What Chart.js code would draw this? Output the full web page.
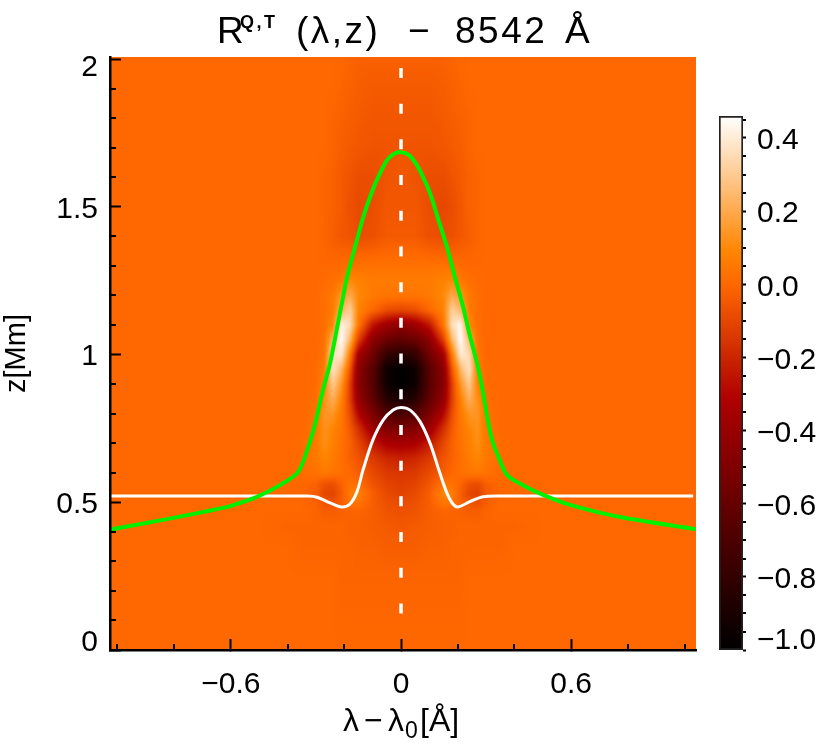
<!DOCTYPE html>
<html>
<head>
<meta charset="utf-8">
<style>
html, body { margin: 0; background: #fff; }
#wrap { position: relative; width: 828px; height: 747px; overflow: hidden; }
canvas { position: absolute; top: 0; }
#main { left: 0; }
#bar { left: 690px; }
</style>
<script src="https://cdn.jsdelivr.net/npm/chart.js@4"></script>
</head>
<body>
<div id="wrap">
<canvas id="main" width="828" height="747"></canvas>
<canvas id="bar" width="138" height="747"></canvas>
</div>
<script>
// tick values
const xMajor = [-0.6, 0, 0.6];
const xMinor = [-1, -0.8, -0.4, -0.2, 0.2, 0.4, 0.8, 1];
const zMajor = [0, 0.5, 1, 1.5, 2];
const zMinor = [0.1, 0.2, 0.3, 0.4, 0.6, 0.7, 0.8, 0.9, 1.1, 1.2, 1.3, 1.4, 1.6, 1.7, 1.8, 1.9];
const cbMajor = [-1, -0.8, -0.6, -0.4, -0.2, 0, 0.2, 0.4];
const cbMinor = [-0.95, -0.9, -0.85, -0.75, -0.7, -0.65, -0.55, -0.5, -0.45, -0.35, -0.3, -0.25, -0.15, -0.1, -0.05, 0.05, 0.1, 0.15, 0.25, 0.3, 0.35, 0.45];

// green curve
const greenLambda = [-1.04, -0.825, -0.663, -0.603, -0.508, -0.427, -0.363, -0.328, -0.303, -0.275, -0.25, -0.222, -0.19, -0.162, -0.134, -0.109, -0.085, -0.049, -0.025, 0, 0.028, 0.056, 0.081, 0.102, 0.13, 0.162, 0.19, 0.219, 0.243, 0.268, 0.289, 0.307, 0.321, 0.338, 0.374, 0.43, 0.501, 0.596, 0.772, 1.04];
const greenZ = [0.405, 0.443, 0.474, 0.487, 0.518, 0.558, 0.602, 0.684, 0.765, 0.88, 0.971, 1.107, 1.262, 1.364, 1.462, 1.533, 1.591, 1.658, 1.679, 1.685, 1.675, 1.641, 1.594, 1.547, 1.462, 1.364, 1.262, 1.161, 1.063, 0.971, 0.873, 0.772, 0.711, 0.667, 0.592, 0.558, 0.525, 0.491, 0.45, 0.409];

// white curve
const whiteLambda = [-1.04, -0.5, -0.33, -0.296, -0.25, -0.209, -0.18, -0.155, -0.134, -0.099, -0.063, -0.028, 0, 0.032, 0.067, 0.102, 0.137, 0.162, 0.183, 0.201, 0.243, 0.289, 0.36, 1.03];
const whiteZ = [0.521, 0.521, 0.521, 0.517, 0.498, 0.484, 0.494, 0.536, 0.609, 0.711, 0.778, 0.812, 0.821, 0.812, 0.773, 0.701, 0.599, 0.531, 0.494, 0.484, 0.502, 0.519, 0.521, 0.521];

// dashed line at line centre
const dashLambda = [0, 0];
const dashZ = [1.97, 0.12];

// response function
const heatLambda = [-1.04, -0.7, -0.5, -0.4, -0.35, -0.3, -0.27, -0.24, -0.21, -0.18, -0.15, -0.1, -0.05, 0, 0.05, 0.1, 0.15, 0.18, 0.21, 0.24, 0.27, 0.3, 0.35, 0.4, 0.5, 0.7, 1.04];
const heatZ = [0, 0.25, 0.35, 0.42, 0.47, 0.5, 0.53, 0.56, 0.6, 0.65, 0.7, 0.75, 0.8, 0.85, 0.9, 0.95, 1, 1.05, 1.1, 1.15, 1.2, 1.25, 1.3, 1.4, 1.5, 1.6, 1.7, 1.8, 1.9, 2.01];
const heatValues = [
[0,0,0,0,0,0,0,0,0,0,0,0,0,0,0,0,0,0,0,0,0,0,0,0,0,0,0],
[0,0,0,0,0,0,0,0,-.01,-.01,-.01,-.01,-.01,-.01,-.01,-.01,-.01,-.01,-.01,0,0,0,0,0,0,0,0],
[0,0,0,0,-.01,-.01,-.01,-.01,-.01,-.01,-.02,-.02,-.03,-.03,-.03,-.02,-.02,-.01,-.01,-.01,-.01,-.01,-.01,0,0,0,0],
[0,0,0,-.01,-.01,-.01,-.01,-.01,-.01,-.02,-.02,-.03,-.04,-.05,-.04,-.03,-.02,-.02,-.01,-.01,-.01,-.01,-.01,-.01,0,0,0],
[0,0,0,0,0,-.01,-.03,-.03,-.02,-.01,-.01,-.03,-.06,-.07,-.06,-.03,-.01,-.01,-.02,-.03,-.03,-.01,0,0,0,0,0],
[0,0,0,0,0,-.02,-.06,-.07,-.03,.03,.04,-.03,-.07,-.09,-.07,-.03,.05,.04,-.02,-.06,-.08,-.03,0,0,0,0,0],
[0,0,0,0,-.01,-.03,-.1,-.11,-.04,.06,.08,-.03,-.09,-.11,-.09,-.03,.09,.07,-.03,-.1,-.12,-.04,-.01,0,0,0,0],
[0,0,0,0,0,-.02,-.07,-.08,-.02,.03,.02,-.06,-.11,-.13,-.11,-.05,.03,.03,-.01,-.07,-.09,-.03,0,0,0,0,0],
[0,0,0,0,.01,.03,.05,.04,.02,0,-.03,-.09,-.14,-.15,-.14,-.09,-.03,0,.02,.04,.05,.03,.01,0,0,0,0],
[0,0,0,0,.01,.05,.09,.06,.02,-.02,-.06,-.14,-.2,-.22,-.2,-.14,-.06,-.02,.02,.06,.09,.05,.01,0,0,0,0],
[0,0,0,0,.01,.05,.12,.07,.03,-.02,-.1,-.24,-.33,-.35,-.33,-.24,-.1,-.02,.03,.07,.12,.05,.01,0,0,0,0],
[0,0,0,0,0,.04,.13,.09,.04,-.04,-.17,-.38,-.5,-.52,-.5,-.38,-.17,-.04,.04,.09,.13,.04,0,0,0,0,0],
[0,0,0,0,0,.03,.14,.14,.05,-.08,-.3,-.52,-.68,-.72,-.68,-.52,-.3,-.08,.05,.14,.14,.03,0,0,0,0,0],
[0,0,0,0,0,.02,.12,.22,.08,-.12,-.42,-.62,-.86,-.9,-.86,-.62,-.42,-.12,.08,.22,.12,.02,0,0,0,0,0],
[0,0,0,0,0,.01,.08,.3,.14,-.12,-.46,-.66,-.95,-1,-.95,-.66,-.46,-.12,.14,.3,.08,.01,0,0,0,0,0],
[0,0,0,0,0,.01,.06,.38,.24,-.05,-.45,-.65,-.95,-1,-.95,-.65,-.45,-.05,.24,.38,.06,.01,0,0,0,0,0],
[0,0,0,0,0,0,.04,.36,.4,.06,-.36,-.56,-.8,-.85,-.8,-.56,-.36,.06,.4,.36,.04,0,0,0,0,0,0],
[0,0,0,0,0,0,.03,.24,.46,.24,-.12,-.45,-.58,-.62,-.58,-.45,-.12,.24,.46,.24,.03,0,0,0,0,0,0],
[0,0,0,0,0,0,.02,.09,.42,.36,.05,-.25,-.38,-.45,-.38,-.25,.05,.36,.44,.09,.02,0,0,0,0,0,0],
[0,0,0,0,0,0,.02,.06,.22,.32,.08,0,-.08,-.1,-.08,0,.08,.32,.24,.06,.02,0,0,0,0,0,0],
[0,0,0,0,0,0,.02,.05,.14,.2,.1,.05,.04,.04,.04,.05,.1,.2,.14,.05,.02,0,0,0,0,0,0],
[0,0,0,0,0,0,.01,.02,.05,.1,.08,.06,.06,.06,.06,.06,.08,.1,.05,.02,.01,0,0,0,0,0,0],
[0,0,0,0,0,0,0,0,.01,.02,.03,.03,.03,.03,.03,.03,.03,.02,.01,0,0,0,0,0,0,0,0],
[0,0,0,0,0,0,-.01,-.03,-.05,-.06,-.08,-.07,-.04,-.04,-.04,-.07,-.08,-.07,-.05,-.03,-.01,0,0,0,0,0,0],
[0,0,0,0,0,0,-.01,-.02,-.04,-.07,-.09,-.08,-.05,-.05,-.05,-.08,-.1,-.08,-.05,-.02,-.01,0,0,0,0,0,0],
[0,0,0,0,0,0,-.01,-.02,-.04,-.06,-.08,-.08,-.06,-.05,-.06,-.08,-.08,-.06,-.04,-.02,-.01,0,0,0,0,0,0],
[0,0,0,0,0,0,0,-.01,-.03,-.04,-.05,-.06,-.06,-.06,-.06,-.06,-.05,-.04,-.03,-.01,0,0,0,0,0,0,0],
[0,0,0,0,0,0,0,-.01,-.02,-.03,-.04,-.05,-.05,-.05,-.05,-.05,-.04,-.03,-.02,-.01,0,0,0,0,0,0,0],
[0,0,0,0,0,0,0,0,-.01,-.02,-.03,-.04,-.04,-.04,-.04,-.04,-.03,-.02,-.01,0,0,0,0,0,0,0,0],
[0,0,0,0,0,0,0,0,0,-.01,-.02,-.02,-.02,-.02,-.02,-.02,-.02,-.01,0,0,0,0,0,0,0,0,0]
];

const valueMin = -1, valueMax = 0.46;
const fontFam = '"Liberation Sans", Arial, sans-serif';
const spacing = '2px';

// IDL red temperature colour table
function colorOf(v) {
    const t = Math.max(0, Math.min(1, (v - valueMin) / (valueMax - valueMin)));
    return [
        255 * Math.min(1, t / 0.686),
        255 * Math.max(0, (t - 0.47) / 0.53),
        255 * Math.max(0, (t - 0.745) / 0.255)
    ];
}

function locate(arr, v) {
    let i = 0;
    while (i < arr.length - 2 && arr[i + 1] < v) i++;
    const f = Math.max(0, Math.min(1, (v - arr[i]) / (arr[i + 1] - arr[i])));
    return [i, f];
}

const heatmapPlugin = {
    id: 'heatmap',
    beforeDatasetsDraw(chart) {
        const { ctx, chartArea: a, scales } = chart;
        const w = Math.ceil(a.width), h = Math.ceil(a.height);
        const off = document.createElement('canvas');
        off.width = w; off.height = h;
        const octx = off.getContext('2d');
        const img = octx.createImageData(w, h);
        for (let py = 0; py < h; py++) {
            const [j, fy] = locate(heatZ, scales.y.getValueForPixel(a.top + py + 0.5));
            for (let px = 0; px < w; px++) {
                const [i, fx] = locate(heatLambda, scales.x.getValueForPixel(a.left + px + 0.5));
                const v = (1 - fy) * ((1 - fx) * heatValues[j][i] + fx * heatValues[j][i + 1])
                    + fy * ((1 - fx) * heatValues[j + 1][i] + fx * heatValues[j + 1][i + 1]);
                const c = colorOf(v), k = (py * w + px) * 4;
                img.data[k] = c[0]; img.data[k + 1] = c[1]; img.data[k + 2] = c[2]; img.data[k + 3] = 255;
            }
        }
        octx.putImageData(img, 0, 0);
        const base = colorOf(0);
        ctx.save();
        ctx.beginPath();
        ctx.rect(a.left, a.top, a.width, a.height);
        ctx.clip();
        ctx.fillStyle = `rgb(${base[0]},${base[1]},${base[2]})`;
        ctx.fillRect(a.left, a.top, a.width, a.height);
        ctx.filter = 'blur(1.2px)';
        ctx.drawImage(off, a.left, a.top);
        ctx.restore();
    }
};

// minor ticks have their own length, the scale only knows one
function drawMinor(chart, scale, values, from, to) {
    const ctx = chart.ctx;
    ctx.save();
    ctx.strokeStyle = '#000';
    ctx.lineWidth = 2;
    ctx.beginPath();
    values.forEach(v => {
        const p = Math.round(scale.getPixelForValue(v));
        if (scale.isHorizontal()) {
            ctx.moveTo(p, from); ctx.lineTo(p, to);
        } else {
            ctx.moveTo(from, p); ctx.lineTo(to, p);
        }
    });
    ctx.stroke();
    ctx.restore();
}

// labels sit a bit low, the end ones are pushed inside the axis range
function shiftLabels(scale, area, all, first, last) {
    const items = scale.getLabelItems(area);
    items.forEach(it => { it.options.translation[1] += all; });
    items[0].options.translation[1] += first;
    items[items.length - 1].options.translation[1] += last;
}

const mainPlugin = {
    id: 'mainExtras',
    beforeInit(chart) { chart.ctx.letterSpacing = spacing; },
    beforeDraw(chart) {
        shiftLabels(chart.scales.y, chart.chartArea, 2.5, -10, 6);
    },
    afterDraw(chart) {
        const a = chart.chartArea;
        drawMinor(chart, chart.scales.x, xMinor, a.bottom, a.bottom - 6);
        drawMinor(chart, chart.scales.y, zMinor, a.left, a.left + 6);
        const ctx = chart.ctx;
        ctx.save();
        ctx.fillStyle = '#000';
        ctx.textBaseline = 'alphabetic';
        ctx.letterSpacing = '2.5px';
        ctx.font = '37px ' + fontFam;
        ctx.fillText('R', 217, 43);
        ctx.fillText('(λ,z)', 296, 43);
        ctx.fillText('−', 408, 43);
        ctx.fillText('8542', 455, 43);
        ctx.fillText('Å', 565, 43);
        ctx.letterSpacing = '2.5px';
        ctx.font = 'bold 18px ' + fontFam;
        ctx.fillText('Q,T', 240, 28);
        // x axis title, the subscript is too large for the scale title
        ctx.letterSpacing = '0px';
        ctx.font = '32px ' + fontFam;
        ctx.fillText('λ', 343, 731);
        ctx.fillText('−', 364, 731);
        ctx.fillText('λ', 388, 731);
        ctx.fillText('[Å]', 420, 731);
        ctx.font = '23px ' + fontFam;
        ctx.fillText('0', 405, 738);
        ctx.restore();
    }
};

const tickFont = { family: fontFam, size: 30 };

new Chart(document.getElementById('main'), {
    type: 'scatter',
    data: {
        datasets: [
            { data: greenLambda.map((x, i) => ({ x, y: greenZ[i] })), showLine: true, borderColor: '#00f000', borderWidth: 4, tension: 0.3, pointRadius: 0 },
            { data: whiteLambda.map((x, i) => ({ x, y: whiteZ[i] })), showLine: true, borderColor: '#fff', borderWidth: 3, tension: 0.3, pointRadius: 0 },
            { data: dashLambda.map((x, i) => ({ x, y: dashZ[i] })), showLine: true, borderColor: '#fff', borderWidth: 3.5, borderDash: [10, 25.7], pointRadius: 0 }
        ]
    },
    options: {
        responsive: false,
        animation: false,
        layout: { padding: { left: 0, top: 57, right: 132, bottom: 0 } },
        plugins: { legend: { display: false }, tooltip: { enabled: false } },
        scales: {
            x: {
                type: 'linear', min: -1.026, max: 1.04,
                afterBuildTicks: s => { s.ticks = xMajor.map(value => ({ value })); },
                afterFit: s => { s.height = 97; },
                border: { color: '#000', width: 2.5, z: 1 },
                grid: { drawOnChartArea: false, tickLength: -11, tickColor: '#000', tickWidth: 2, z: 1 },
                ticks: { font: tickFont, color: '#000', padding: 28, maxRotation: 0, callback: v => String(v).replace('-', '−') }
            },
            y: {
                type: 'linear', min: 0, max: 2.007,
                afterBuildTicks: s => { s.ticks = zMajor.map(value => ({ value })); },
                afterFit: s => { s.width = 110; },
                border: { color: '#000', width: 2.5, z: 1 },
                grid: { drawOnChartArea: false, tickLength: -11, tickColor: '#000', tickWidth: 2, z: 1 },
                ticks: { font: tickFont, color: '#000', padding: 23, callback: v => String(v) },
                title: { display: true, text: 'z[Mm]', color: '#000', font: { family: fontFam, size: 29 }, padding: { top: 0, bottom: 0 } }
            }
        }
    },
    plugins: [heatmapPlugin, mainPlugin]
});

const barPlugin = {
    id: 'barExtras',
    beforeInit(chart) { chart.ctx.letterSpacing = spacing; },
    beforeDraw(chart) { shiftLabels(chart.scales.y, chart.chartArea, 3, -12, 0); },
    afterDraw(chart) {
        const a = chart.chartArea;
        drawMinor(chart, chart.scales.y, cbMinor, a.right, a.right + 3);
    }
};

new Chart(document.getElementById('bar'), {
    type: 'bar',
    data: {
        labels: ['R'],
        datasets: [{
            data: [[valueMin, valueMax]],
            borderColor: '#222',
            borderWidth: 2,
            borderSkipped: false,
            barPercentage: 1,
            categoryPercentage: 1,
            backgroundColor(c) {
                const { ctx, chartArea, scales } = c.chart;
                if (!chartArea) return '#000';
                const g = ctx.createLinearGradient(0, scales.y.getPixelForValue(valueMin), 0, scales.y.getPixelForValue(valueMax));
                for (let i = 0; i <= 40; i++) {
                    const col = colorOf(valueMin + (valueMax - valueMin) * i / 40);
                    g.addColorStop(i / 40, `rgb(${col[0]},${col[1]},${col[2]})`);
                }
                return g;
            }
        }]
    },
    options: {
        responsive: false,
        animation: false,
        layout: { padding: { left: 29, top: 116, right: 0, bottom: 97 } },
        plugins: { legend: { display: false }, tooltip: { enabled: false } },
        scales: {
            x: { display: false },
            y: {
                position: 'right', min: valueMin, max: valueMax,
                afterBuildTicks: s => { s.ticks = cbMajor.map(value => ({ value })); },
                afterFit: s => { s.width = 85; },
                border: { display: false },
                grid: { drawOnChartArea: false, tickLength: 3, tickColor: '#000', tickWidth: 2 },
                ticks: { font: tickFont, color: '#000', padding: 11, callback: v => v.toFixed(1).replace('-', '−') }
            }
        }
    },
    plugins: [barPlugin]
});
</script>
</body>
</html>
